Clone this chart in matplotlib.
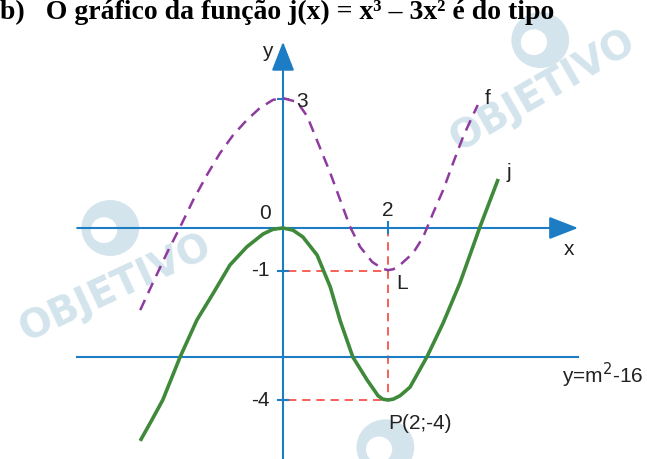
import matplotlib
matplotlib.use("Agg")
import matplotlib.pyplot as plt
from matplotlib.patches import Ellipse

plt.rcParams["font.family"] = ["Liberation Sans", "DejaVu Sans"]

# curve f (dashed)
f_x = [-2.72, -2.48, -2.21, -1.96, -1.71, -1.45, -1.20, -0.95, -0.69, -0.44, -0.19,
       0.0, 0.27, 0.46, 0.70, 0.90, 1.09, 1.28, 1.47, 1.70, 1.90, 2.0, 2.1, 2.23,
       2.48, 2.67, 2.86, 3.05, 3.24, 3.43, 3.62, 3.71]
f_y = [-1.91, -1.28, -0.58, 0.02, 0.65, 1.23, 1.74, 2.16, 2.51, 2.79, 2.98,
       3.02, 2.93, 2.60, 1.88, 1.28, 0.65, 0.02, -0.44, -0.79, -0.95, -0.98, -0.96, -0.86,
       -0.58, -0.21, 0.35, 0.88, 1.51, 2.12, 2.63, 2.86]

# curve j (solid)
j_x = [-2.72, -2.50, -2.29, -1.96, -1.64, -1.33, -1.01, -0.69, -0.38, -0.19, 0.0,
       0.19, 0.38, 0.65, 0.90, 1.09, 1.33, 1.60, 1.81, 1.90, 2.0, 2.10, 2.23, 2.42,
       2.74, 3.05, 3.37, 3.75, 4.10]
j_y = [-4.95, -4.47, -4.00, -3.00, -2.14, -1.52, -0.86, -0.44, -0.14, -0.03, 0.0,
       -0.05, -0.21, -0.63, -1.37, -2.16, -3.00, -3.53, -3.90, -3.98, -4.00, -3.98, -3.90, -3.70,
       -3.00, -2.21, -1.28, 0.02, 1.14]

line_level = -3.0          # y = m^2 - 16
point_L = (2, -1)
point_P = (2, -4)
y_ticks = [3, -1, -4]
x_ticks = [2]

BLUE = "#1c7cc4"
PURPLE = "#8e3a9e"
GREEN = "#3f8a3a"
RED = "#f5453a"
WM = "#d3e4ec"

fig = plt.figure(figsize=(6.47, 4.59), dpi=100)
ax = fig.add_axes([0, 0, 1, 1])
ax.set_xlim(-5.39, 6.933)
ax.set_ylim(-5.372, 5.302)
ax.axis("off")

# watermarks (logo rings + word)
for cx, cy in [(-3.29, 0.0), (4.9, 4.37), (1.95, -5.1)]:
    ax.add_patch(Ellipse((cx, cy), 1.1, 1.3, color=WM, zorder=0, lw=0))
    ax.add_patch(Ellipse((cx - 0.12, cy - 0.05), 0.5, 0.6, color="white", zorder=0, lw=0))
wm = dict(color=WM, fontsize=28, fontweight="heavy", ha="center", va="center",
          zorder=0, family="DejaVu Sans")
ax.text(-3.2, -1.4, "OBJETIVO", rotation=25, **wm)
ax.text(4.95, 3.2, "OBJETIVO", rotation=30, **wm)

# header text (mostly cropped in the original scan)
fig.text(0.0, 1 - 19 / 459, "b)   O gráfico da função j(x) = x³ – 3x² é do tipo",
         family="Liberation Serif", fontweight="bold", fontsize=20, va="baseline")

# axes with arrows
arrow = dict(arrowstyle="-|>,head_length=0.9,head_width=0.35", color=BLUE, lw=1.5,
             shrinkA=0, shrinkB=0, mutation_scale=20)
ax.annotate("", xy=(5.62, 0), xytext=(-3.92, 0), arrowprops=arrow, zorder=3)
ax.annotate("", xy=(0, 4.33), xytext=(0, -5.4), arrowprops=arrow, zorder=3)
ax.plot([-3.92, 5.62], [line_level, line_level], color=BLUE, lw=1.5, zorder=3)

for t in y_ticks:
    ax.plot([-0.1, 0.1], [t, t], color=BLUE, lw=1.5, zorder=3)
for t in x_ticks:
    ax.plot([t, t], [0.14, -0.12], color=BLUE, lw=1.5, zorder=3)

# red guides
guide = dict(color=RED, lw=1.2, dashes=(5, 3.5), zorder=2)
ax.plot([0.1, point_L[0]], [point_L[1], point_L[1]], **guide)
ax.plot([0.1, point_P[0]], [point_P[1], point_P[1]], **guide)
ax.plot([2, 2], [0, point_P[1]], **guide)

# curves
ax.plot(f_x, f_y, color=PURPLE, lw=1.8, dashes=(4.5, 3), zorder=4)
ax.plot(j_x, j_y, color=GREEN, lw=2.6, zorder=4, solid_capstyle="butt",
        solid_joinstyle="round")

# labels
lab = dict(fontsize=15, color="#222222", zorder=5)
ax.text(-0.2, 4.1, "y", ha="right", va="center", **lab)
ax.text(5.45, -0.5, "x", ha="center", va="center", **lab)
ax.text(-0.35, 0.33, "0", ha="center", va="center", **lab)
ax.text(2, 0.4, "2", ha="center", va="center", **lab)
ax.text(0.25, 2.95, "3", ha="left", va="center", **lab)
ax.text(-0.25, -1, "-1", ha="right", va="center", **lab)
ax.text(-0.25, -4, "-4", ha="right", va="center", **lab)
ax.text(2.15, -1.3, "L", ha="left", va="center", **lab)
ax.text(2.6, -4.55, "P(2;-4)", ha="center", va="center", **lab)
ax.text(3.85, 3.0, "f", ha="left", va="center", **lab)
ax.text(4.25, 1.3, "j", ha="left", va="center", **lab)
ax.text(6.08, -3.42, "y=m$^2$-16", ha="center", va="center", **lab)

fig.savefig("out.png", dpi=100)
